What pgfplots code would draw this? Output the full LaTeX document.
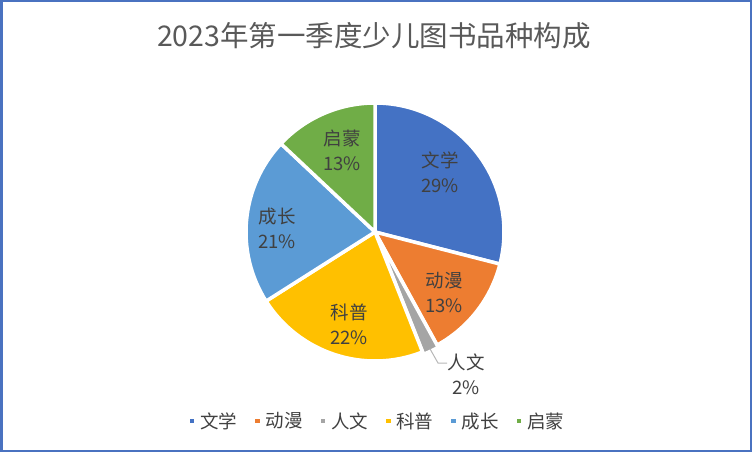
\documentclass[border=0pt]{standalone}
\usepackage{pgfplots}
\pgfplotsset{compat=1.18}
\usepackage{pgfplotstable}
\usepackage{fontspec}
\setmainfont{Noto Sans CJK SC}

\definecolor{pie0}{HTML}{4472C4}
\definecolor{pie1}{HTML}{ED7D31}
\definecolor{pie2}{HTML}{A5A5A5}
\definecolor{pie3}{HTML}{FFC000}
\definecolor{pie4}{HTML}{5B9BD5}
\definecolor{pie5}{HTML}{70AD47}
\definecolor{labc}{HTML}{404040}
\definecolor{ttlc}{HTML}{595959}
\definecolor{framec}{HTML}{4A72C0}

% share in percent, label centre in picture pixels (y downward), explode in bp
\pgfplotstableread{
name share lx  ly  ex
文学   29   440 172 0
动漫   13   444 293 0
人文   2    466 374 2.5
科普   22   349 324 0
成长   21   277 228 0
启蒙   13   342 150 0
}\piedata

% cumulative angles, clockwise from 12 o'clock
\def\cum{0}%
\pgfplotsforeachungrouped \i in {0,...,5}{%
  \pgfplotstablegetelem{\i}{share}\of\piedata
  \let\sh\pgfplotsretval
  \pgfmathsetmacro\angA{90-3.6*\cum}%
  \pgfmathsetmacro\cum{\cum+\sh}%
  \pgfmathsetmacro\angB{90-3.6*\cum}%
  \pgfmathsetmacro\angM{(\angA+\angB)/2}%
  \expandafter\xdef\csname pieA\i\endcsname{\angA}%
  \expandafter\xdef\csname pieB\i\endcsname{\angB}%
  \expandafter\xdef\csname pieM\i\endcsname{\angM}%
  \expandafter\xdef\csname pieP\i\endcsname{\sh}%
  \pgfplotstablegetelem{\i}{name}\of\piedata
  \expandafter\xdef\csname pieN\i\endcsname{\pgfplotsretval}%
  \pgfplotstablegetelem{\i}{lx}\of\piedata
  \expandafter\xdef\csname pieX\i\endcsname{\pgfplotsretval}%
  \pgfplotstablegetelem{\i}{ly}\of\piedata
  \expandafter\xdef\csname pieY\i\endcsname{\pgfplotsretval}%
  \pgfplotstablegetelem{\i}{ex}\of\piedata
  \expandafter\xdef\csname pieE\i\endcsname{\pgfplotsretval}%
}%

\begin{document}
\begin{tikzpicture}
\begin{axis}[
  width = 752bp, height = 452bp,
  scale only axis,
  xmin = 0, xmax = 752,
  ymin = 0, ymax = 452,
  y dir = reverse,
  axis lines = none,
  clip = false,
  legend columns = 6,
  legend image code/.code = {
    \fill (0bp,-2.25bp) rectangle (4.5bp,2.25bp);
  },
  legend style = {
    at = {(axis cs:378,421)},
    anchor = center,
    draw = none,
    fill = none,
    font = \fontsize{18.5bp}{22bp}\selectfont,
    text = labc,
    /tikz/every odd column/.append style = {column sep=4bp},
    /tikz/every even column/.append style = {column sep=16bp},
  },
]

% slices
\pgfplotsinvokeforeach{0,...,5}{%
  \fill[pie#1, draw=white, line width=3.5bp, line join=round,
        shift={(\csname pieM#1\endcsname:\csname pieE#1\endcsname bp)}]
    (axis cs:375,232) -- ++(\csname pieA#1\endcsname:129bp)
    arc[start angle=\csname pieA#1\endcsname,
        end angle=\csname pieB#1\endcsname, radius=129bp] -- cycle;
  \addlegendimage{fill=pie#1, draw=none}
  \addlegendentry{\csname pieN#1\endcsname}
}

% leader line for the small slice
\draw[pie2!80!white, line width=1bp]
  (axis cs:375,232) ++(\csname pieM2\endcsname:129bp)
  -- (axis cs:438,363) -- (axis cs:447,363);

% data labels
\pgfplotsinvokeforeach{0,...,5}{%
  \node[align=center, text=labc, inner sep=0pt,
        font=\fontsize{18.5bp}{25bp}\selectfont]
    at (axis cs:\csname pieX#1\endcsname,\csname pieY#1\endcsname)
    {\csname pieN#1\endcsname\\\csname pieP#1\endcsname\%};
}

% title
\node[text=ttlc, font=\fontsize{28.5bp}{32bp}\selectfont]
  at (axis cs:374,36) {2023年第一季度少儿图书品种构成};

% chart frame
\draw[framec, line width=2.5bp]
  (axis cs:1.25,1.25) rectangle (axis cs:750.75,450.75);

\end{axis}
\end{tikzpicture}
\end{document}
